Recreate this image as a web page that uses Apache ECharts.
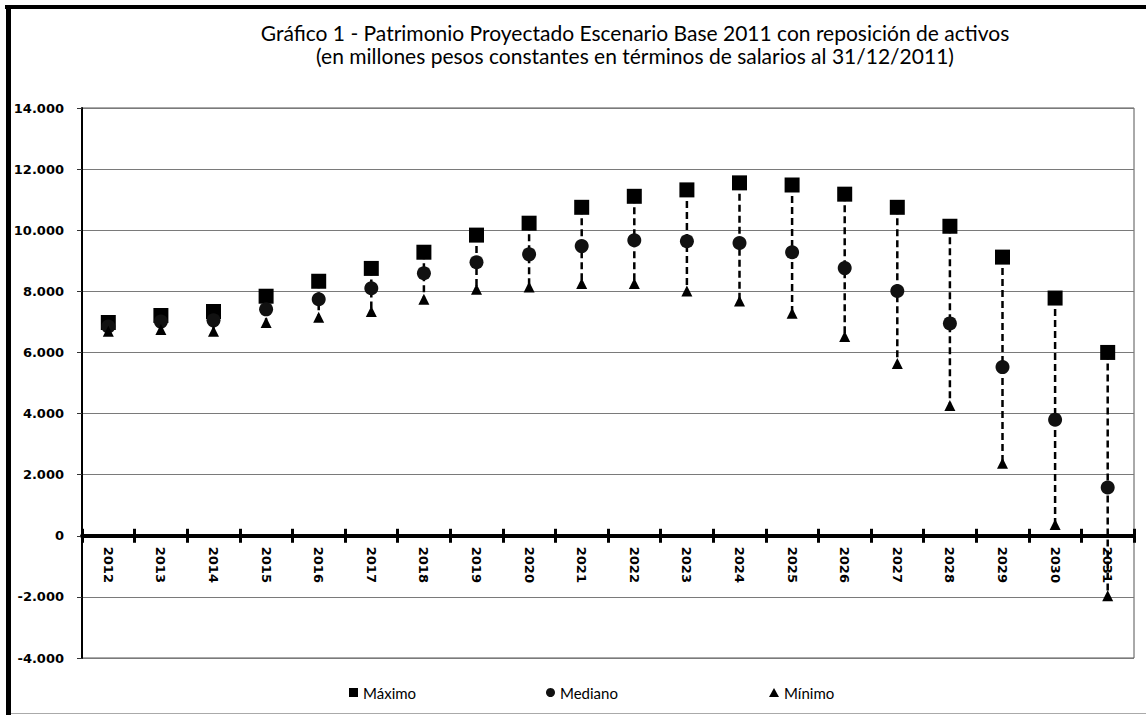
<!DOCTYPE html>
<html>
<head>
<meta charset="utf-8">
<script src="https://cdn.jsdelivr.net/npm/echarts@6/dist/echarts.min.js"></script>
<style>
html,body{margin:0;padding:0;background:#fff;}
#chart{width:1146px;height:715px;}
</style>
</head>
<body>
<div id="chart"></div>
<script>
const years = ['2012','2013','2014','2015','2016','2017','2018','2019','2020','2021','2022','2023','2024','2025','2026','2027','2028','2029','2030','2031'];
const maximo  = [6980, 7210, 7340, 7840, 8330, 8750, 9280, 9840, 10230, 10750, 11110, 11320, 11550, 11480, 11180, 10750, 10130, 9120, 7780, 6000];
const mediano = [6850, 7010, 7050, 7410, 7740, 8100, 8590, 8950, 9210, 9480, 9670, 9640, 9580, 9280, 8760, 8010, 6950, 5520, 3800, 1580];
const minimo  = [6690, 6750, 6690, 6980, 7150, 7340, 7740, 8070, 8140, 8260, 8260, 8010, 7680, 7280, 6520, 5640, 4260, 2370, 370, -1960];
const yTicks = { min: -4000, max: 14000, interval: 2000 };
const titleLine1 = 'Gráfico 1 - Patrimonio Proyectado Escenario Base 2011 con reposición de activos';
const titleLine2 = '(en millones pesos constantes en términos de salarios al 31/12/2011)';

const rangeData = years.map((y, i) => [i, maximo[i], minimo[i]]);

function fmt(v) {
  const neg = v < 0;
  let s = String(Math.abs(v));
  s = s.replace(/\B(?=(\d{3})+(?!\d))/g, '.');
  return (neg ? '-' : '') + s;
}

const W = 1146, H = 715;
const gridPos = { left: 82, right: 12, top: 108, bottom: 57 };
const plotH = H - gridPos.top - gridPos.bottom;
const zeroY = gridPos.top + plotH * (yTicks.max - 0) / (yTicks.max - yTicks.min);

const chart = echarts.init(document.getElementById('chart'), null, { renderer: 'svg' });
const labelFont = { fontFamily: 'DejaVu Sans', fontWeight: 'bold', fontSize: 13, color: '#000' };
const legendText = { fontFamily: 'Lato', fontSize: 15, color: '#000' };
const titleStyle = { fontFamily: 'Lato', fontWeight: 'normal', fontSize: 21, color: '#000' };

chart.setOption({
  animation: false,
  backgroundColor: '#fff',
  title: [
    { text: titleLine1, left: 630, top: 17, textAlign: 'center', textStyle: titleStyle },
    { text: titleLine2, left: 630, top: 40, textAlign: 'center', textStyle: titleStyle }
  ],
  graphic: [
    { type: 'rect', shape: { x: 5, y: 5, width: 1141, height: 4 }, style: { fill: '#000' }, silent: true },
    { type: 'rect', shape: { x: 6, y: 5, width: 5, height: 710 }, style: { fill: '#000' }, silent: true },
    { type: 'rect', shape: { x: 11, y: 713, width: 1135, height: 1 }, style: { fill: '#aaa' }, silent: true }
  ],
  legend: [
    { data: [{ name: 'Máximo' }], left: 344, top: 680, itemWidth: 9, itemHeight: 9, itemGap: 4, textStyle: legendText },
    { data: [{ name: 'Mediano' }], left: 541, top: 680, itemWidth: 9, itemHeight: 9, itemGap: 4, textStyle: legendText },
    { data: [{ name: 'Mínimo' }], left: 764, top: 680, itemWidth: 10, itemHeight: 9, itemGap: 4, textStyle: legendText }
  ],
  grid: [
    Object.assign({ show: true, borderColor: '#555', borderWidth: 1, backgroundColor: 'transparent' }, gridPos),
    Object.assign({ show: false }, gridPos),
    { show: false, left: gridPos.left, right: gridPos.right, top: gridPos.top, bottom: H - zeroY }
  ],
  xAxis: [
    {
      type: 'category', data: years, gridIndex: 0, boundaryGap: true,
      axisLine: { onZero: true, lineStyle: { color: '#000', width: 4 } },
      axisTick: { show: true, length: 7, lineStyle: { color: '#000', width: 3 } },
      axisLabel: { show: false },
      splitLine: { show: false }
    },
    {
      type: 'category', data: years, gridIndex: 1, boundaryGap: true,
      axisLine: { show: false, onZero: true },
      axisTick: { show: true, inside: true, length: 7, lineStyle: { color: '#000', width: 3 } },
      axisLabel: { show: false },
      splitLine: { show: false }
    },
    {
      type: 'category', data: years, gridIndex: 2, boundaryGap: true, position: 'bottom',
      axisLine: { show: false, onZero: false },
      axisTick: { show: false },
      axisLabel: Object.assign({ rotate: -90, margin: 11, interval: 0 }, labelFont),
      splitLine: { show: false }
    }
  ],
  yAxis: [
    {
      type: 'value', gridIndex: 0, min: yTicks.min, max: yTicks.max, interval: yTicks.interval,
      axisLine: { show: true, lineStyle: { color: '#000', width: 2 } },
      axisTick: { show: true, length: 5, lineStyle: { color: '#333' } },
      axisLabel: Object.assign({ margin: 18, formatter: fmt }, labelFont),
      splitLine: { show: true, lineStyle: { color: '#7a7a7a', width: 1 } }
    },
    {
      type: 'value', gridIndex: 1, min: yTicks.min, max: yTicks.max, interval: yTicks.interval,
      show: false, splitLine: { show: false }
    },
    {
      type: 'value', gridIndex: 2, min: 0, max: yTicks.max, interval: yTicks.interval,
      show: false, splitLine: { show: false }
    }
  ],
  series: [
    {
      type: 'custom', name: 'rango', xAxisIndex: 0, yAxisIndex: 0, silent: true, z: 2,
      data: rangeData,
      renderItem: function (params, api) {
        const p1 = api.coord([api.value(0), api.value(1)]);
        const p2 = api.coord([api.value(0), api.value(2)]);
        return {
          type: 'line',
          shape: { x1: p1[0], y1: p1[1], x2: p2[0], y2: p2[1] },
          style: { stroke: '#000', lineWidth: 2.5, lineDash: [7, 4] }
        };
      }
    },
    {
      type: 'scatter', name: 'Máximo', data: maximo, symbol: 'rect', symbolSize: [15, 15],
      itemStyle: { color: '#000', opacity: 1 }, z: 5
    },
    {
      type: 'scatter', name: 'Mediano', data: mediano, symbol: 'circle', symbolSize: 14,
      itemStyle: { color: '#111', opacity: 1 }, z: 5
    },
    {
      type: 'scatter', name: 'Mínimo', data: minimo, symbol: 'triangle', symbolSize: [11, 11],
      itemStyle: { color: '#000', opacity: 1 }, z: 5
    }
  ]
});
</script>
</body>
</html>
